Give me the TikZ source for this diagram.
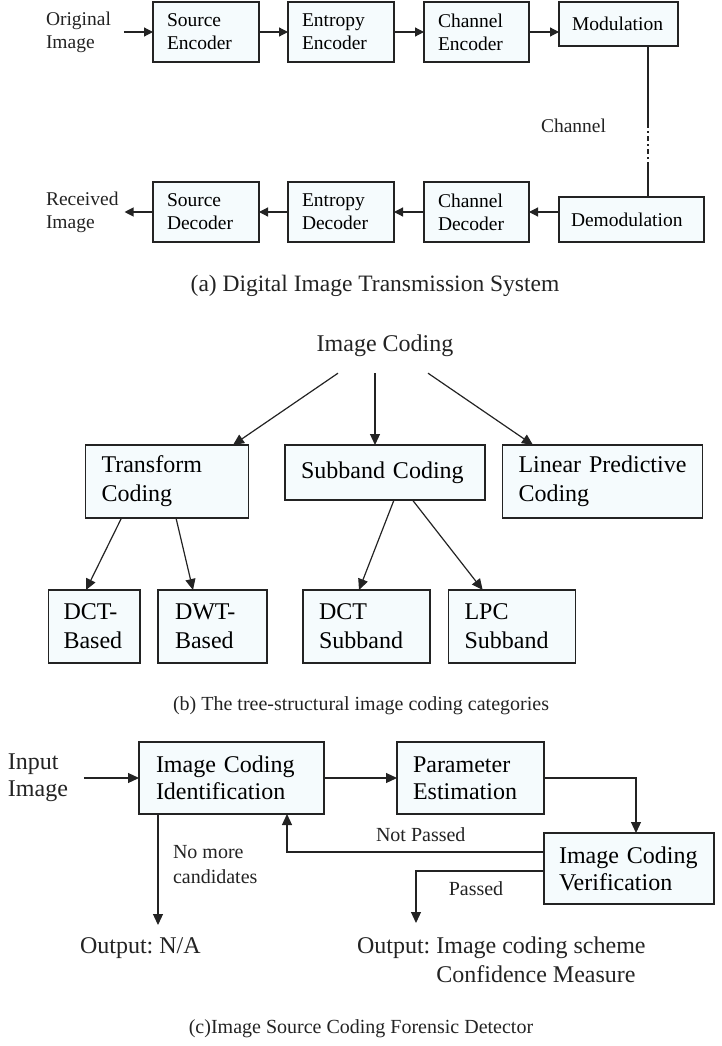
\documentclass[tikz,border=0pt]{standalone}
\usepackage{fontspec}
\setmainfont{Liberation Serif}
\usetikzlibrary{arrows.meta,calc}
\definecolor{boxfill}{RGB}{245,251,253}
\definecolor{ink}{RGB}{35,35,35}
\frenchspacing
\begin{document}
\begin{tikzpicture}[x=1pt,y=-1pt,
  box/.style={draw=ink, fill=boxfill, line width=1.2pt, anchor=north west, align=left, inner ysep=0pt, outer sep=0pt},
  txt/.style={inner sep=0pt, outer sep=0pt, align=left, text=ink},
  fa/.style={font=\fontsize{19.5}{23}\selectfont},
  fcapa/.style={font=\fontsize{23.5}{27}\selectfont},
  fb/.style={font=\fontsize{24}{29}\selectfont},
  fc/.style={font=\fontsize{24}{27}\selectfont},
  fl/.style={font=\fontsize{20}{25}\selectfont},
  conn/.style={draw=ink, line width=1.2pt},
  arra/.style={conn, -{Triangle[length=9pt,width=9pt]}},
  arr/.style={conn, -{Triangle[length=11pt,width=10pt]}}
]
\useasboundingbox (0,0) rectangle (722,1046);

% ---------------- (a) ----------------
\node[txt, fa, anchor=west] (orig) at (46,32) {Original\\Image};
\node[box, fa, inner xsep=14pt, text width=78pt, minimum height=60pt] (se) at (153,2) {Source\\Encoder};
\node[box, fa, inner xsep=14pt, text width=78pt, minimum height=60pt] (ee) at (288,2) {Entropy\\Encoder};
\node[box, fa, inner xsep=14pt, text width=77pt, minimum height=60pt] (ce) at (424,2) {Channel\\Encoder};
\node[box, fa, inner xsep=13pt, text width=93pt, minimum height=44pt] (mod) at (559,2) {Modulation};
\node[box, fa, inner xsep=12pt, text width=121pt, minimum height=45pt] (demod) at (559,197) {Demodulation};
\node[box, fa, inner xsep=14pt, text width=77pt, minimum height=60pt] (cd) at (424,182) {Channel\\Decoder};
\node[box, fa, inner xsep=14pt, text width=78pt, minimum height=60pt] (ed) at (288,182) {Entropy\\Decoder};
\node[box, fa, inner xsep=14pt, text width=78pt, minimum height=60pt] (sd) at (153,182) {Source\\Decoder};
\node[txt, fa, anchor=west] (recv) at (46,212) {Received\\Image};

\draw[arra, shorten <=13pt] (orig.east) -- (se.west);
\draw[arra] (se.east) -- (ee.west);
\draw[arra] (ee.east) -- (ce.west);
\draw[arra] (ce.east) -- (ce.east -| mod.west);
\draw[arra] (demod.west |- cd.east) -- (cd.east);
\draw[arra] (cd.west) -- (ed.east);
\draw[arra] (ed.west) -- (sd.east);
\draw[arra, shorten >=6pt] (sd.west) -- (recv.east);

\coordinate (chA) at (648,123);
\coordinate (chB) at (648,167);
\draw[draw=ink, line width=1.1pt] (mod.south -| chA) -- (chA);
\draw[draw=ink, line width=1.3pt, dash pattern=on 5pt off 3pt on 2pt off 3pt] (chA) -- (chB);
\draw[draw=ink, line width=1.1pt] (chB) -- (demod.north -| chB);
\node[txt, fa, anchor=west] (chl) at (541,126) {Channel};

\node[txt, fcapa, anchor=base] (capa) at (375,291) {(a) Digital Image Transmission System};

% ---------------- (b) ----------------
\node[txt, fb, anchor=base] (root) at (385,351) {Image Coding};
\node[box, fb, inner xsep=16pt, text width=131pt, minimum height=73pt] (tc) at (85.5,445) {Transform\\Coding};
\node[box, fb, inner xsep=16pt, text width=168pt, minimum height=55pt] (sc) at (285,445) {Subband Coding};
\node[box, fb, inner xsep=16pt, text width=168pt, minimum height=73pt] (lp) at (502.5,445) {Linear Predictive\\Coding};
\node[box, fb, inner xsep=15pt, text width=61.5pt, minimum height=73pt] (dctb) at (48.5,590) {DCT-\\Based};
\node[box, fb, inner xsep=17pt, text width=75pt, minimum height=73pt] (dwtb) at (158,590) {DWT-\\Based};
\node[box, fb, inner xsep=16pt, text width=95pt, minimum height=73pt] (dcts) at (303,590) {DCT\\Subband};
\node[box, fb, inner xsep=16pt, text width=95pt, minimum height=73pt] (lpcs) at (448.5,590) {LPC\\Subband};

\draw[arr] ([xshift=-47pt,yshift=-17pt]root.south) -- ([xshift=66pt]tc.north);
\draw[arr] ([xshift=-10pt,yshift=-17pt]root.south) -- ([xshift=-10pt]sc.north);
\draw[arr] ([xshift=43pt,yshift=-17pt]root.south) -- ([xshift=-69.5pt]lp.north);
\draw[arr] ([xshift=-45.5pt]tc.south) -- ([xshift=-8.25pt]dctb.north);
\draw[arr] ([xshift=9pt]tc.south) -- ([xshift=-19.5pt]dwtb.north);
\draw[arr] ([xshift=9pt]sc.south) -- ([xshift=-7.5pt]dcts.north);
\draw[arr] ([xshift=27.5pt]sc.south) -- ([xshift=-29.3pt]lpcs.north);

\node[txt, fl, anchor=base] (capb) at (361,710) {(b) The tree-structural image coding categories};

% ---------------- (c) ----------------
\node[txt, fc, anchor=west] (inp) at (8,778) {Input\\Image};
\node[box, fc, inner xsep=17pt, text width=151pt, minimum height=72pt] (ident) at (139,742) {Image Coding\\Identification};
\node[box, fc, inner xsep=16pt, text width=115pt, minimum height=72pt] (pe) at (397,742) {Parameter\\Estimation};
\node[box, fc, inner xsep=15pt, text width=140pt, minimum height=71pt] (ver) at (544,833) {Image Coding\\Verification};

\coordinate (nmEnd) at (158,925);
\coordinate (psEnd) at (416,923);

\draw[arr, shorten <=16pt] (inp.east) -- (ident.west);
\draw[arr] (ident.east) -- (pe.west);
\draw[arr] (pe.east) -| ([xshift=7pt]ver.north);
\draw[arr] ([yshift=16.5pt]ver.west) -| ([xshift=55.5pt]ident.south);
\draw[arr] ([xshift=19pt]ident.south west) -- (nmEnd);
\draw[arr] ([yshift=-2.5pt]ver.west) -| (psEnd);

\node[txt, fl, anchor=west] (nomore) at (173,865) {No more\\candidates};
\node[txt, fl, anchor=west] (notp) at (376,835) {Not Passed};
\node[txt, fl] (passed) at (476,889) {Passed};

\node[txt, fc, anchor=west] (outna) at (80,948) {Output: N/A};
\node[txt, font=\fontsize{24}{29}\selectfont, anchor=west] (outsc) at (357,962)
  {Output: Image coding scheme\\\phantom{Output: }Confidence Measure};

\node[txt, fl, anchor=base] (capc) at (361,1033) {(c)Image Source Coding Forensic Detector};
\end{tikzpicture}
\end{document}
